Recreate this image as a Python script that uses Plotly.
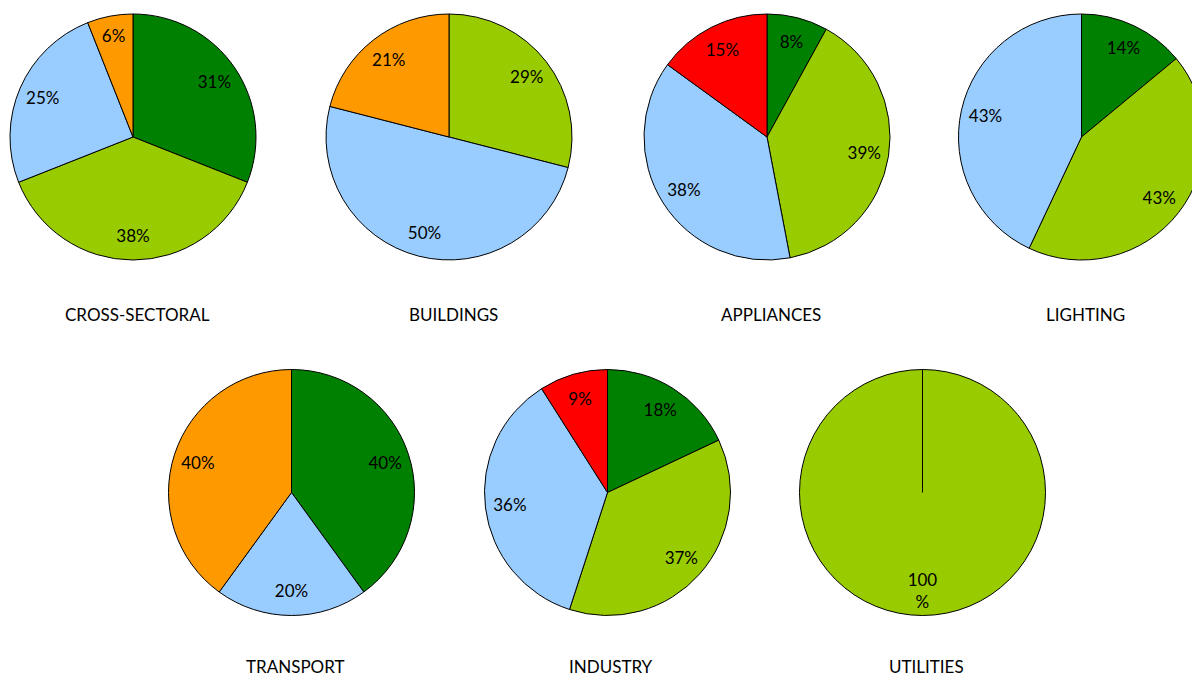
import plotly.graph_objects as go

# ---------------- data ----------------
sectors = ["CROSS-SECTORAL", "BUILDINGS", "APPLIANCES", "LIGHTING",
           "TRANSPORT", "INDUSTRY", "UTILITIES"]
categories = ["Dark green", "Light green", "Light blue", "Orange", "Red"]

cross_sectoral = [31, 38, 25, 6, 0]
buildings      = [0, 29, 50, 21, 0]
appliances     = [8, 39, 38, 0, 15]
lighting       = [14, 43, 43, 0, 0]
transport      = [40, 0, 20, 40, 0]
industry       = [18, 37, 36, 0, 9]
utilities      = [0, 100, 0, 0, 0]

sector_values = [cross_sectoral, buildings, appliances, lighting,
                 transport, industry, utilities]

# ---------------- style / layout ----------------
COLORS = {"Dark green": "#008000", "Light green": "#99CC00",
          "Light blue": "#99CCFF", "Orange": "#FF9900", "Red": "#FF0000"}
W, H = 1210, 678          # figure a bit wider than the window: right pie is clipped
R = 123                   # pie radius in px
PIE_CX = [133, 449, 767, 1081.5, 291.5, 607.5, 922.5]
PIE_CY = [137, 137, 137, 137, 492.5, 492.5, 492.5]
TITLE_Y = [315, 315, 315, 315, None, None, None]   # None -> sits on bottom edge
TITLE_DX = 4
HOLE = 0.6                # label ring -> labels sit at ~0.8 r like the original
FONT = "Lato"
WRAP = {"UTILITIES"}

fig = go.Figure()
shapes = []
annotations = []
for i, (name, vals) in enumerate(zip(sectors, sector_values)):
    labs = [c for c, v in zip(categories, vals) if v > 0]
    vs = [v for v in vals if v > 0]
    txt = [f"{v}%" for v in vs]
    if name in WRAP:
        txt = [t.replace("%", "<br>%") for t in txt]
    cx, cy = PIE_CX[i], PIE_CY[i]
    dom = dict(x=[(cx - R) / W, (cx + R) / W],
               y=[1 - (cy + R) / H, 1 - (cy - R) / H])
    fig.add_trace(go.Pie(
        labels=labs, values=vs, domain=dom, sort=False, direction="clockwise",
        rotation=0, textinfo="none", hoverinfo="label+value",
        marker=dict(colors=[COLORS[c] for c in labs],
                    line=dict(color="black", width=1)),
        showlegend=False, name=name))
    fig.add_trace(go.Pie(
        labels=labs, values=vs, domain=dom, sort=False, direction="clockwise",
        rotation=0, hole=HOLE, text=txt, textinfo="text",
        textposition="inside", insidetextorientation="horizontal",
        textfont=dict(family=FONT, size=17, color="black"),
        marker=dict(colors=["rgba(0,0,0,0)"] * len(vs), line=dict(width=0)),
        hoverinfo="skip", showlegend=False, name=name + " labels"))
    if len(vs) == 1:
        # the single-slice border from the centre to 12 o'clock
        shapes.append(dict(type="line", xref="paper", yref="paper",
                           x0=cx / W, x1=cx / W,
                           y0=1 - cy / H, y1=1 - (cy - R) / H,
                           line=dict(color="black", width=1)))
    ty = TITLE_Y[i]
    annotations.append(dict(text=name, x=(cx + TITLE_DX) / W,
                            y=(1 - ty / H) if ty is not None else 0,
                            xref="paper", yref="paper", xanchor="center",
                            yanchor="middle" if ty is not None else "bottom",
                            borderpad=0, showarrow=False,
                            font=dict(family=FONT, size=17, color="black")))

fig.update_layout(width=W, height=H, margin=dict(l=0, r=0, t=0, b=0),
                  paper_bgcolor="white", plot_bgcolor="white",
                  uniformtext=dict(minsize=17, mode="show"),
                  shapes=shapes, annotations=annotations)

fig.write_html("out.html", config={"displayModeBar": False},
               post_script="document.body.style.margin='0';"
                           "document.body.style.overflow='hidden';")
